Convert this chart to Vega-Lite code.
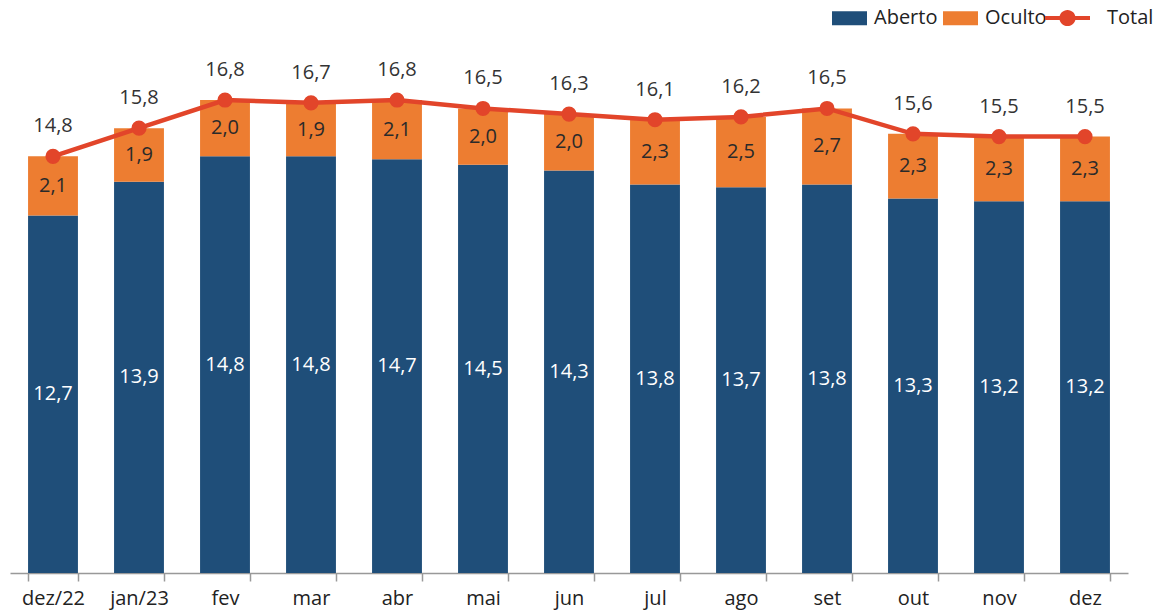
{
  "$schema": "https://vega.github.io/schema/vega-lite/v6.json",
  "width": 1118,
  "height": 549,
  "autosize": {"type": "none"},
  "padding": {"left": 10, "top": 24, "right": 33, "bottom": 41},
  "background": "white",
  "config": {
    "view": {"stroke": null},
    "font": "Open Sans",
    "locale": {"number": {"decimal": ",", "thousands": ".", "grouping": [3], "currency": ["R$", ""]}}
  },
  "data": {
    "values": [
      {"mes": "dez/22", "Aberto": 12.7, "Oculto": 2.1, "Total": 14.8},
      {"mes": "jan/23", "Aberto": 13.9, "Oculto": 1.9, "Total": 15.8},
      {"mes": "fev", "Aberto": 14.8, "Oculto": 2.0, "Total": 16.8},
      {"mes": "mar", "Aberto": 14.8, "Oculto": 1.9, "Total": 16.7},
      {"mes": "abr", "Aberto": 14.7, "Oculto": 2.1, "Total": 16.8},
      {"mes": "mai", "Aberto": 14.5, "Oculto": 2.0, "Total": 16.5},
      {"mes": "jun", "Aberto": 14.3, "Oculto": 2.0, "Total": 16.3},
      {"mes": "jul", "Aberto": 13.8, "Oculto": 2.3, "Total": 16.1},
      {"mes": "ago", "Aberto": 13.7, "Oculto": 2.5, "Total": 16.2},
      {"mes": "set", "Aberto": 13.8, "Oculto": 2.7, "Total": 16.5},
      {"mes": "out", "Aberto": 13.3, "Oculto": 2.3, "Total": 15.6},
      {"mes": "nov", "Aberto": 13.2, "Oculto": 2.3, "Total": 15.5},
      {"mes": "dez", "Aberto": 13.2, "Oculto": 2.3, "Total": 15.5}
    ]
  },
  "encoding": {
    "x": {
      "field": "mes", "type": "nominal", "sort": null,
      "scale": {"paddingInner": 0.42, "paddingOuter": 0.21},
      "axis": {
        "title": null, "labelAngle": 0, "labelFontSize": 20, "labelColor": "#222222",
        "labelPadding": 7, "domainColor": "#999999", "tickColor": "#999999",
        "tickSize": 8, "bandPosition": 0, "tickBand": "extent", "domainWidth": 1.5, "tickWidth": 1.5
      }
    }
  },
  "layer": [
    {
      "transform": [{"fold": ["Aberto", "Oculto"], "as": ["serie", "valor"]}],
      "layer": [
        {
          "mark": {"type": "bar"},
          "encoding": {
            "y": {"field": "valor", "type": "quantitative", "stack": "zero",
                  "scale": {"domain": [0, 19.5], "nice": false}, "axis": null},
            "order": {"field": "serie", "sort": "ascending"},
            "color": {
              "field": "serie", "type": "nominal",
              "scale": {"domain": ["Aberto", "Oculto"], "range": ["#1F4E79", "#ED7D31"]},
              "legend": {
                "title": null, "orient": "none", "direction": "horizontal",
                "legendX": 822, "legendY": -23.5,
                "symbolType": "M-1,-0.4H1V0.4H-1Z", "symbolSize": 1225,
                "symbolStrokeWidth": 0, "symbolOpacity": 1,
                "labelFontSize": 20, "labelColor": "#222222", "labelOffset": 7,
                "columnPadding": 5
              }
            }
          }
        },
        {
          "mark": {"type": "text", "fontSize": 20},
          "encoding": {
            "y": {"field": "valor", "type": "quantitative", "stack": "zero", "bandPosition": 0.5},
            "order": {"field": "serie", "sort": "ascending"},
            "text": {"field": "valor", "type": "quantitative", "format": ".1f"},
            "color": {
              "condition": {"test": "datum.serie === 'Aberto'", "value": "#FFFFFF"},
              "value": "#2A2A2A"
            }
          }
        }
      ]
    },
    {
      "mark": {"type": "line", "strokeWidth": 4.5},
      "encoding": {
        "y": {"field": "Total", "type": "quantitative"},
        "stroke": {
          "datum": "Total",
          "scale": {"range": ["#E2452A"]},
          "legend": {
            "title": null, "orient": "none", "legendX": 1035, "legendY": -28.5,
            "symbolType": "M-1,-0.09H1V0.09H-1Z M-0.36,0A0.36,0.36 0 1,1 0.36,0A0.36,0.36 0 1,1 -0.36,0Z",
            "symbolSize": 2025, "symbolFillColor": "#E2452A", "symbolStrokeColor": "#E2452A", "symbolStrokeWidth": 0,
            "labelFontSize": 20, "labelColor": "#222222", "labelOffset": 17
          }
        }
      }
    },
    {
      "mark": {"type": "point", "filled": true, "size": 230, "color": "#E2452A", "opacity": 1},
      "encoding": {"y": {"field": "Total", "type": "quantitative"}}
    },
    {
      "mark": {"type": "text", "fontSize": 20, "dy": -30, "color": "#333333"},
      "encoding": {
        "y": {"field": "Total", "type": "quantitative"},
        "text": {"field": "Total", "type": "quantitative", "format": ".1f"}
      }
    }
  ]
}
